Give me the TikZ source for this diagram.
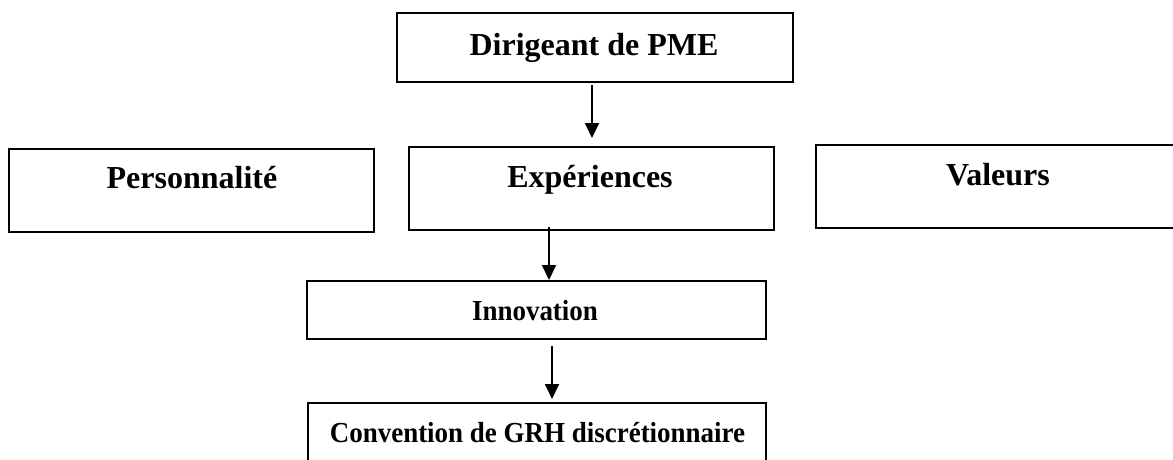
\documentclass[tikz,border=0pt]{standalone}
\usepackage{fontspec}
\setmainfont{Liberation Serif}
\usetikzlibrary{arrows.meta}
\newcommand{\narrowtxt}[1]{\scalebox{0.93}[1]{#1}}
\tikzset{
  boxshape/.style={draw=black, line width=1.8pt, rectangle, inner sep=0pt},
  boxtext/.style={anchor=base, inner sep=0pt, font=\fontsize{32}{38}\selectfont\bfseries},
  smalltext/.style={anchor=base, inner sep=0pt, font=\fontsize{29}{34}\selectfont\bfseries},
  flowarrow/.style={line width=1.8pt, -{Triangle[width=14pt,length=15pt]}}
}
\begin{document}
\begin{tikzpicture}[x=1pt,y=-1pt]
\useasboundingbox (0,0) rectangle (1173,459);
\clip (0,0) rectangle (1173,459);
% boxes
\node[boxshape, minimum width=396pt, minimum height=69pt] (dir) at (595,47.5) {};
\node[boxshape, minimum width=365pt, minimum height=83pt] (exp) at (591.5,188.5) {};
\node[boxshape, minimum width=365pt, minimum height=83pt] (pers) at (191.5,190.5) {};
\node[boxshape, minimum width=364pt, minimum height=83pt] (val) at (998,186.5) {};
\node[boxshape, minimum width=459pt, minimum height=58pt] (inno) at (536.5,310) {};
\node[boxshape, minimum width=458pt, minimum height=70pt] (conv) at (537,438) {};
% texts
\node[boxtext] (dirT) at (594,55) {Dirigeant de PME};
\node[boxtext] (expT) at (590,187) {Expériences};
\node[boxtext] (persT) at (192,188) {Personnalité};
\node[boxtext] (valT) at (998,185) {Valeurs};
\node[smalltext] (innoT) at (535,320) {\narrowtxt{Innovation}};
\node[smalltext] (convT) at (537.5,442) {\narrowtxt{Convention de GRH discrétionnaire}};
% arrows
\coordinate (a1s) at (592,85);
\coordinate (a1e) at (592,138);
\coordinate (a2s) at (549,227);
\coordinate (a2e) at (549,280);
\coordinate (a3s) at (552,346);
\coordinate (a3e) at (552,399);
\draw[flowarrow] (a1s) -- (a1e);
\draw[flowarrow] (a2s) -- (a2e);
\draw[flowarrow] (a3s) -- (a3e);
\end{tikzpicture}
\end{document}
